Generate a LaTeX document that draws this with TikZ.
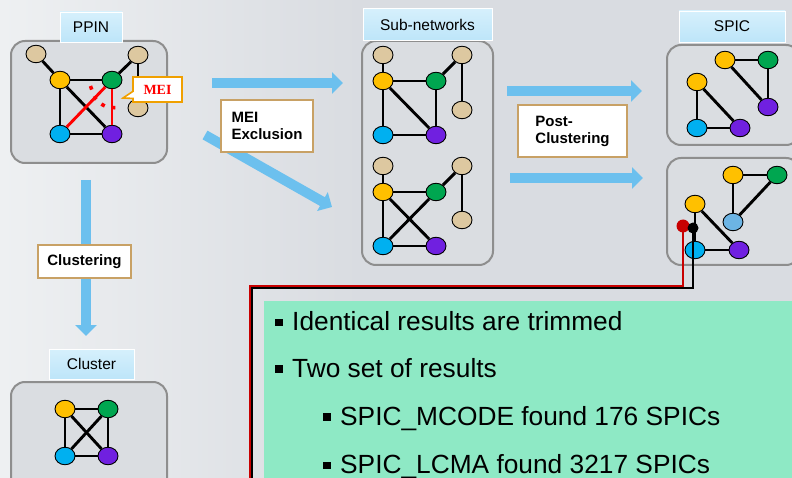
\documentclass[tikz,border=0pt]{standalone}
\usepackage{fontspec}
\setmainfont{Liberation Sans}
\newfontfamily\serifb{Liberation Serif}
\usetikzlibrary{shapes.geometric,shapes.callouts,arrows.meta}
\definecolor{bg}{HTML}{D9DCE1}
\definecolor{bglight}{HTML}{EEF0F2}
\definecolor{panelgray}{HTML}{8E8E8E}
\definecolor{panelfill}{HTML}{DADDE1}
\definecolor{lblblue}{HTML}{BDE5F9}
\definecolor{lbltop}{HTML}{D6F0FC}
\definecolor{arrowblue}{HTML}{6CC0EE}
\definecolor{yel}{HTML}{FFC000}
\definecolor{grn}{HTML}{00A650}
\definecolor{blu}{HTML}{00B0F0}
\definecolor{pur}{HTML}{7020E0}
\definecolor{tan}{HTML}{DDC8A0}
\definecolor{lbl}{HTML}{6CB4E4}
\definecolor{boxborder}{HTML}{C8A165}
\definecolor{callorange}{HTML}{F0A000}
\definecolor{mint}{HTML}{8EE9C5}
\definecolor{darkred}{HTML}{C80000}
\newcommand{\sqb}{\makebox[17pt][l]{\rule[4.5pt]{7.5pt}{7.5pt}}}
\begin{document}
\begin{tikzpicture}[x=1pt,y=-1pt,
  panel/.style={draw=panelgray, line width=2pt, rounded corners=14pt, fill=panelfill},
  lblbox/.style={draw=white, line width=0.8pt, top color=lbltop, bottom color=lblblue, inner sep=0pt, font=\fontsize{15.5}{16}\selectfont},
  vtx/.style={ellipse, draw=black, line width=0.9pt, minimum width=20pt, minimum height=17.5pt, inner sep=0pt},
  edg/.style={line width=2.9pt, black},
  redg/.style={line width=2.9pt, red},
  bigarrow/.style={line width=10pt, draw=arrowblue, -{Triangle[length=11pt,width=21pt]}},
  textbox/.style={draw=boxborder, line width=1.8pt, fill=white, font=\bfseries\fontsize{15}{17}\selectfont, align=left, inner sep=0pt},
  bullet/.style={anchor=base west, inner sep=0pt, font=\fontsize{26.3}{30}\selectfont}
]
\useasboundingbox (0,0) rectangle (792,478);
\clip (0,0) rectangle (792,478);
% background
\fill[bg] (0,0) rectangle (792,478);
\shade[left color=bglight, right color=bg] (0,0) rectangle (360,478);

% ---------- panels ----------
\node[panel, minimum width=156pt, minimum height=122pt] (ppinp) at (89,102) {};
\node[panel, minimum width=131pt, minimum height=224pt] (subp) at (427.5,153) {};
\node[panel, minimum width=133pt, minimum height=100pt] (spicp1) at (733.5,95) {};
\node[panel, minimum width=133pt, minimum height=107pt] (spicp2) at (733.5,211.5) {};
\node[panel, minimum width=156pt, minimum height=120pt] (clup) at (89,442) {};

% ---------- labels ----------
\node[lblbox, minimum width=62pt, minimum height=30pt] (ppinl) at (91,27) {PPIN};
\node[lblbox, minimum width=129pt, minimum height=32pt] (subl) at (427.5,24.5) {Sub-networks};
\node[lblbox, minimum width=106pt, minimum height=31pt] (spicl) at (732,26.5) {SPIC};
\node[lblbox, minimum width=85pt, minimum height=30pt] (clul) at (91.5,364) {Cluster};

% ---------- big arrows ----------
\coordinate (a1s) at (212,83);  \coordinate (a1e) at (343,83);
\coordinate (a2s) at (205,135); \coordinate (a2e) at (332,207);
\coordinate (a3s) at (507,91);  \coordinate (a3e) at (642,91);
\coordinate (a4s) at (510,178); \coordinate (a4e) at (643,178);
\coordinate (a5s) at (86,180);  \coordinate (a5e) at (86,336);
\draw[bigarrow] (a1s) -- (a1e);
\draw[bigarrow] (a2s) -- (a2e);
\draw[bigarrow] (a3s) -- (a3e);
\draw[bigarrow] (a4s) -- (a4e);
\draw[bigarrow] (a5s) -- (a5e);

\node[textbox, minimum width=92pt, minimum height=52pt] (meix) at (267,126) {MEI\\Exclusion};
\node[textbox, minimum width=109pt, minimum height=52pt] (postc) at (572.5,131) {Post-\\Clustering};
\node[textbox, minimum width=93pt, minimum height=33pt] (clus) at (84.5,261.5) {Clustering};

% ---------- PPIN graph ----------
\node[vtx, fill=tan] (p1) at (36,54) {};
\node[vtx, fill=tan] (p2) at (138,55) {};
\node[vtx, fill=yel] (p3) at (60,80) {};
\node[vtx, fill=grn] (p4) at (112,80) {};
\node[vtx, fill=tan] (p5) at (138,108) {};
\node[vtx, fill=blu] (p6) at (60,134) {};
\node[vtx, fill=pur] (p7) at (112,134) {};
\draw[edg] (p1) -- (p3);
\draw[edg] (p3) -- (p4);
\draw[edg] (p3) -- (p6);
\draw[edg] (p3) -- (p7);
\draw[edg] (p6) -- (p7);
\draw[edg] (p4) -- (p2);
\draw[edg] (p2) -- (p5);
\draw[redg] (p6) -- (p4);
\draw[redg] (p4) -- (p7);
\draw[red, line width=3.6pt, dash pattern=on 3.8pt off 7pt] plot[smooth] coordinates {(90.5,86) (96,99) (106,106.5) (121,108)};
\node[rectangle callout, callout absolute pointer={(123,98)}, fill=white, draw=callorange, line width=1.6pt, minimum width=49pt, minimum height=25pt, inner sep=0pt, text=red, font=\serifb\bfseries\fontsize{14}{14}\selectfont] (mei) at (157.5,89.5) {MEI};

% ---------- Sub-networks graph 1 ----------
\node[vtx, fill=tan] (s1) at (383,55) {};
\node[vtx, fill=yel] (s2) at (383,81) {};
\node[vtx, fill=grn] (s3) at (436,81) {};
\node[vtx, fill=tan] (s4) at (462,55) {};
\node[vtx, fill=tan] (s5) at (462,110) {};
\node[vtx, fill=blu] (s6) at (383,135) {};
\node[vtx, fill=pur] (s7) at (436,135) {};
\draw[edg] (s1) -- (s2);
\draw[edg] (s2) -- (s3);
\draw[edg] (s2) -- (s6);
\draw[edg] (s2) -- (s7);
\draw[edg] (s3) -- (s7);
\draw[edg] (s6) -- (s7);
\draw[edg] (s3) -- (s4);
\draw[edg] (s4) -- (s5);

% ---------- Sub-networks graph 2 ----------
\node[vtx, fill=tan] (t1) at (383,166) {};
\node[vtx, fill=yel] (t2) at (383,192) {};
\node[vtx, fill=grn] (t3) at (436,192) {};
\node[vtx, fill=tan] (t4) at (462,166) {};
\node[vtx, fill=tan] (t5) at (462,220) {};
\node[vtx, fill=blu] (t6) at (383,246) {};
\node[vtx, fill=pur] (t7) at (436,246) {};
\draw[edg] (t1) -- (t2);
\draw[edg] (t2) -- (t3);
\draw[edg] (t2) -- (t6);
\draw[edg] (t2) -- (t7);
\draw[edg] (t6) -- (t3);
\draw[edg] (t6) -- (t7);
\draw[edg] (t3) -- (t4);
\draw[edg] (t4) -- (t5);

% ---------- SPIC 1 ----------
\node[vtx, fill=yel] (u1) at (725,60) {};
\node[vtx, fill=grn] (u2) at (768,60) {};
\node[vtx, fill=pur] (u3) at (768,107) {};
\node[vtx, fill=yel] (u4) at (697,82) {};
\node[vtx, fill=blu] (u5) at (697,128) {};
\node[vtx, fill=pur] (u6) at (740,128) {};
\draw[edg] (u1) -- (u2);
\draw[edg] (u2) -- (u3);
\draw[edg] (u1) -- (u3);
\draw[edg] (u4) -- (u5);
\draw[edg] (u4) -- (u6);
\draw[edg] (u5) -- (u6);

% ---------- SPIC 2 ----------
\node[vtx, fill=yel] (v1) at (733,175) {};
\node[vtx, fill=grn] (v2) at (777,175) {};
\node[vtx, fill=lbl] (v3) at (733,222) {};
\node[vtx, fill=yel] (v4) at (695,204) {};
\node[vtx, fill=blu] (v5) at (695,250) {};
\node[vtx, fill=pur] (v6) at (739,250) {};
\draw[edg] (v1) -- (v2);
\draw[edg] (v2) -- (v3);
\draw[edg] (v1) -- (v3);
\draw[edg] (v4) -- (v5);
\draw[edg] (v4) -- (v6);
\draw[edg] (v5) -- (v6);

% ---------- Cluster ----------
\node[vtx, fill=yel] (c1) at (65,409) {};
\node[vtx, fill=grn] (c2) at (108,409) {};
\node[vtx, fill=blu] (c3) at (65,456) {};
\node[vtx, fill=pur] (c4) at (108,456) {};
\draw[edg] (c1) -- (c2);
\draw[edg] (c1) -- (c3);
\draw[edg] (c1) -- (c4);
\draw[edg] (c2) -- (c3);
\draw[edg] (c2) -- (c4);
\draw[edg] (c3) -- (c4);

% ---------- leader lines & note ----------
\node[circle, fill=darkred, minimum size=13pt, inner sep=0pt] (rdot) at (683,226) {};
\node[circle, fill=black, minimum size=11pt, inner sep=0pt] (bdot) at (693,228) {};
\coordinate (rbend1) at (683,286); \coordinate (rbend2) at (250,286); \coordinate (rend) at (250,480);
\coordinate (bbend1) at (693,288); \coordinate (bbend2) at (252,288); \coordinate (bend) at (252,480);
\draw[black, line width=1.5pt] (bdot.center) -- (bbend1) -- (bbend2) -- (bend);
\draw[darkred, line width=1.5pt] (rdot.center) -- (rbend1) -- (rbend2) -- (rend);

\fill[mint] (264,301) rectangle (792,478);
\node[bullet] (b1) at (275,330.5) {\sqb Identical results are trimmed};
\node[bullet] (b2) at (275,377) {\sqb Two set of results};
\node[bullet] (b3) at (323,425) {\sqb SPIC\_MCODE found 176 SPICs};
\node[bullet] (b4) at (323,473.5) {\sqb SPIC\_LCMA found 3217 SPICs};
\end{tikzpicture}
\end{document}
